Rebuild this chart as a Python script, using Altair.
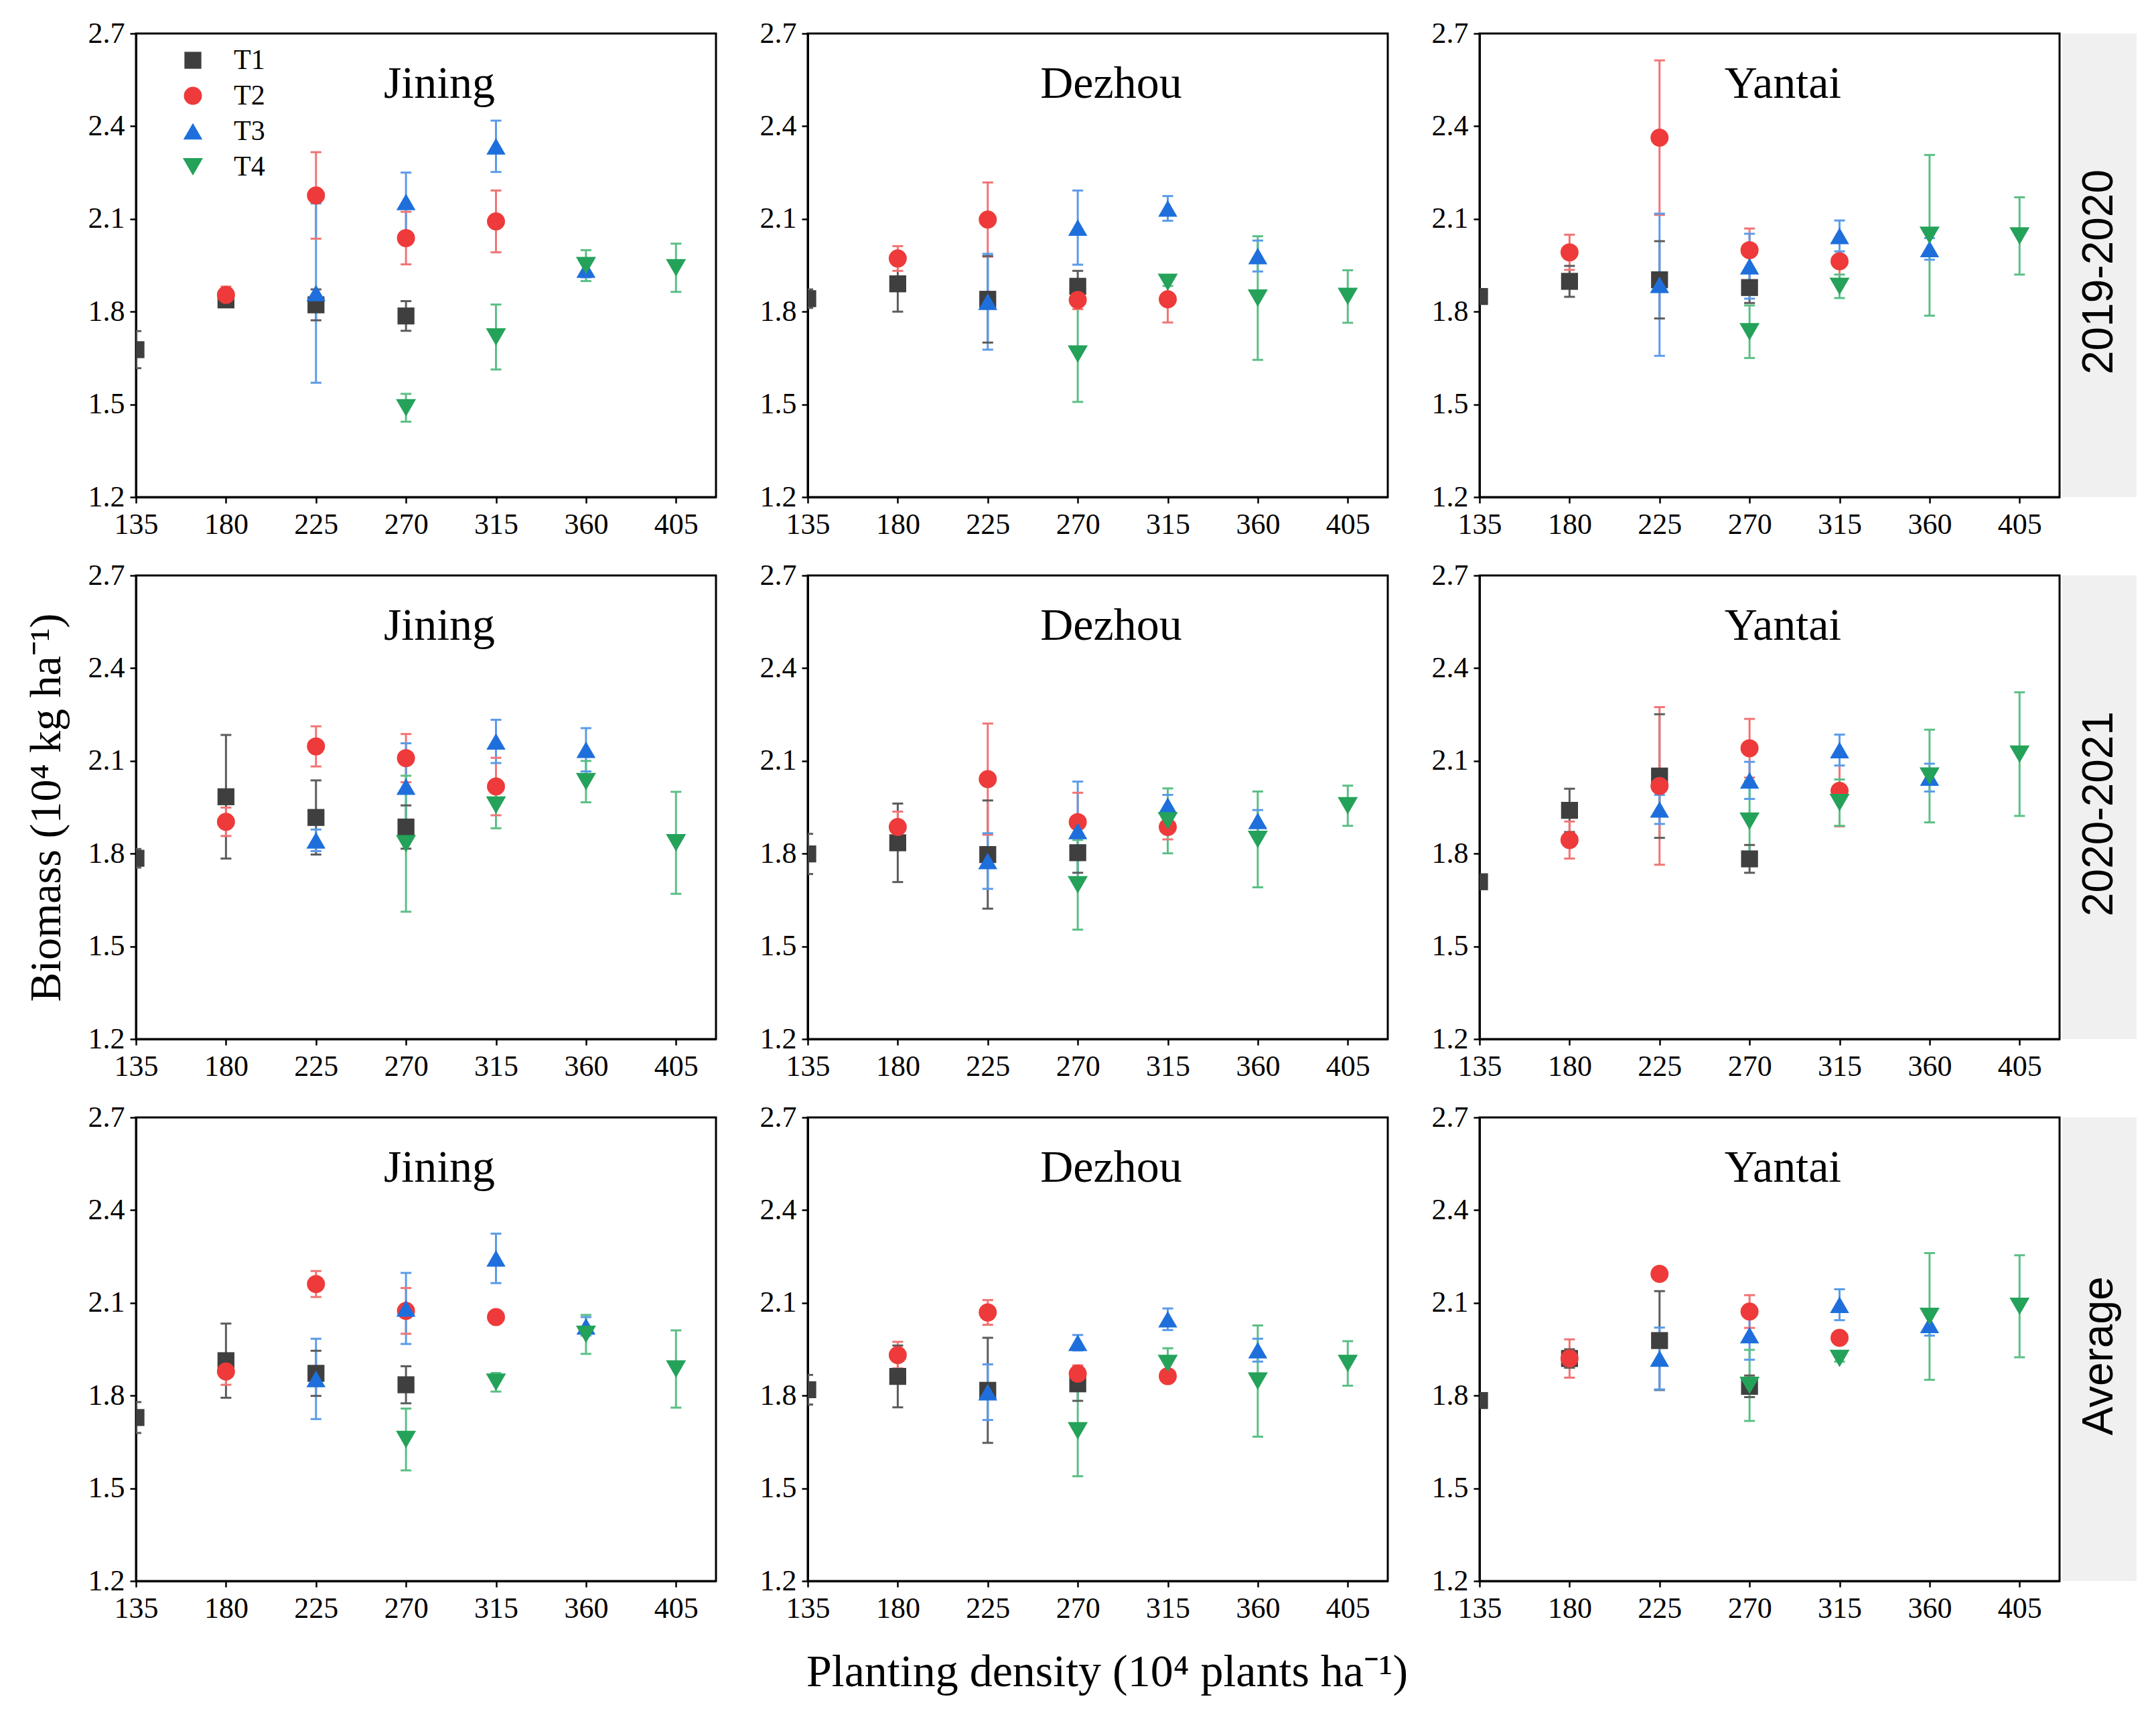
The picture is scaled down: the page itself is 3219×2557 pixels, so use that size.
import altair as alt
import pandas as pd

# ---------------- data ----------------
TREATMENTS = ["T1", "T2", "T3", "T4"]
T1_DENSITY = [135, 180, 225, 270]
T2_DENSITY = [180, 225, 270, 315]
T3_DENSITY = [225, 270, 315, 360]
T4_DENSITY = [270, 315, 360, 405]
X_TICKS = [135, 180, 225, 270, 315, 360, 405]
Y_TICKS = [1.2, 1.5, 1.8, 2.1, 2.4, 2.7]
SITES = ["Jining", "Dezhou", "Yantai"]
PERIODS = ["2019-2020", "2020-2021", "Average"]

# means ordered T1(4), T2(4), T3(4), T4(4); errors likewise
JINING_1920_MEAN = [1.677, 1.838, 1.822, 1.786, 1.854, 2.176, 2.038, 2.092,
                    1.860, 2.155, 2.335, 1.936, 1.489, 1.718, 1.949, 1.942]
JINING_1920_ERR = [0.060, 0.020, 0.050, 0.048, 0.027, 0.140, 0.085, 0.100,
                   0.290, 0.095, 0.083, 0.025, 0.045, 0.105, 0.050, 0.078]
DEZHOU_1920_MEAN = [1.842, 1.890, 1.840, 1.882, 1.972, 2.098, 1.838, 1.840,
                    1.832, 2.072, 2.134, 1.980, 1.663, 1.895, 1.844, 1.849]
DEZHOU_1920_ERR = [0.030, 0.090, 0.140, 0.050, 0.040, 0.120, 0.030, 0.075,
                   0.155, 0.120, 0.040, 0.050, 0.155, 0.012, 0.200, 0.085]
YANTAI_1920_MEAN = [1.849, 1.898, 1.903, 1.878, 1.992, 2.363, 1.999, 1.963,
                    1.887, 1.947, 2.045, 2.003, 1.735, 1.882, 2.047, 2.045]
YANTAI_1920_ERR = [0.020, 0.050, 0.125, 0.050, 0.057, 0.250, 0.070, 0.060,
                   0.230, 0.105, 0.050, 0.035, 0.085, 0.038, 0.260, 0.125]

JINING_2021_MEAN = [1.785, 1.984, 1.917, 1.886, 1.903, 2.147, 2.109, 2.017,
                    1.843, 2.017, 2.163, 2.136, 1.832, 1.957, 2.033, 1.835]
JINING_2021_ERR = [0.030, 0.200, 0.120, 0.070, 0.046, 0.065, 0.078, 0.093,
                   0.035, 0.140, 0.070, 0.070, 0.220, 0.075, 0.067, 0.165]
DEZHOU_2021_MEAN = [1.799, 1.835, 1.797, 1.803, 1.886, 2.041, 1.902, 1.886,
                    1.776, 1.873, 1.955, 1.906, 1.699, 1.906, 1.846, 1.955]
DEZHOU_2021_ERR = [0.065, 0.127, 0.175, 0.065, 0.050, 0.180, 0.095, 0.040,
                   0.090, 0.160, 0.035, 0.035, 0.145, 0.105, 0.155, 0.065]
YANTAI_2021_MEAN = [1.709, 1.940, 2.051, 1.783, 1.844, 2.019, 2.141, 2.003,
                    1.943, 2.037, 2.135, 2.046, 1.905, 1.965, 2.051, 2.122]
YANTAI_2021_ERR = [0.020, 0.070, 0.200, 0.045, 0.060, 0.255, 0.095, 0.115,
                   0.047, 0.060, 0.050, 0.045, 0.130, 0.075, 0.150, 0.200]

JINING_AVG_MEAN = [1.729, 1.913, 1.872, 1.835, 1.878, 2.161, 2.074, 2.054,
                   1.854, 2.082, 2.244, 2.024, 1.658, 1.843, 1.998, 1.886]
JINING_AVG_ERR = [0.050, 0.120, 0.073, 0.060, 0.043, 0.042, 0.074, 0.010,
                  0.130, 0.115, 0.080, 0.030, 0.100, 0.030, 0.063, 0.125]
DEZHOU_AVG_MEAN = [1.819, 1.862, 1.817, 1.838, 1.931, 2.069, 1.871, 1.863,
                   1.811, 1.971, 2.047, 1.947, 1.686, 1.904, 1.847, 1.904]
DEZHOU_AVG_ERR = [0.048, 0.100, 0.170, 0.055, 0.043, 0.040, 0.027, 0.015,
                  0.090, 0.025, 0.035, 0.037, 0.147, 0.049, 0.180, 0.072]
YANTAI_AVG_MEAN = [1.784, 1.920, 1.978, 1.830, 1.920, 2.194, 2.072, 1.987,
                   1.920, 1.996, 2.094, 2.029, 1.833, 1.920, 2.056, 2.089]
YANTAI_AVG_ERR = [0.020, 0.030, 0.160, 0.035, 0.062, 0.010, 0.053, 0.020,
                  0.100, 0.080, 0.050, 0.035, 0.115, 0.010, 0.205, 0.165]

PANELS = [
    [(JINING_1920_MEAN, JINING_1920_ERR), (DEZHOU_1920_MEAN, DEZHOU_1920_ERR), (YANTAI_1920_MEAN, YANTAI_1920_ERR)],
    [(JINING_2021_MEAN, JINING_2021_ERR), (DEZHOU_2021_MEAN, DEZHOU_2021_ERR), (YANTAI_2021_MEAN, YANTAI_2021_ERR)],
    [(JINING_AVG_MEAN, JINING_AVG_ERR), (DEZHOU_AVG_MEAN, DEZHOU_AVG_ERR), (YANTAI_AVG_MEAN, YANTAI_AVG_ERR)],
]
DENSITIES = [T1_DENSITY, T2_DENSITY, T3_DENSITY, T4_DENSITY]

# ---------------- styling ----------------
COLORS = ["#3f3f3f", "#ee3a3a", "#1e6fdc", "#24a25a"]
BAR_COLORS = ["#5c5c5c", "#f27474", "#5b9be8", "#5cbf86"]
SHAPES = ["square", "circle", "triangle-up", "triangle-down"]
SIZES = [640, 900, 950, 950]
SERIF = "Liberation Serif"
SANS = "Liberation Sans"
W, H = 866, 692
SW = 111
CAP = 2.7  # half cap width in density units
Y_TITLE = "Biomass (10\u2074 kg ha\u207b\u00b9)"
X_TITLE = "Planting density (10\u2074 plants ha\u207b\u00b9)"


def make_df(means, errs):
    rows = []
    for i, t in enumerate(TREATMENTS):
        for j, d in enumerate(DENSITIES[i]):
            m = means[i * 4 + j]
            e = errs[i * 4 + j]
            rows.append({"t": t, "density": d, "mean": m, "lo": m - e, "hi": m + e})
    return pd.DataFrame(rows)


LEGEND = alt.Legend(title=None, orient="none", legendX=64, legendY=19, padding=0,
                    labelFont=SERIF, labelFontSize=42, labelColor="black",
                    symbolSize=620, rowPadding=11, labelOffset=40, symbolStrokeWidth=0)


def panel(r, c):
    means, errs = PANELS[r][c]
    df = make_df(means, errs)
    base = alt.Chart(df)

    if c == 0:
        yaxis = alt.Axis(values=Y_TICKS, format=".1f", title=Y_TITLE, titleFont=SERIF,
                         titleFontSize=66, titleFontWeight="normal", titleColor="black",
                         titlePadding=28, titleOpacity=1 if r == 1 else 0)
    else:
        yaxis = alt.Axis(values=Y_TICKS, format=".1f", title="")
    xaxis = alt.Axis(values=X_TICKS, title="")

    xs = alt.Scale(domain=[135, 425], nice=False, zero=False)
    ys = alt.Scale(domain=[1.2, 2.7], nice=False, zero=False)
    # data-driven domain (sorted T1..T4) so this hidden legend never merges with the marker legend
    stroke = alt.Stroke("t:N", scale=alt.Scale(range=BAR_COLORS), legend=None)

    bars = base.mark_rule(strokeWidth=3, clip=True).encode(
        x=alt.X("density:Q", scale=xs, axis=xaxis),
        y=alt.Y("lo:Q", scale=ys, axis=yaxis),
        y2="hi:Q",
        stroke=stroke,
    )
    capbase = base.transform_calculate(xl=f"datum.density - {CAP}", xr=f"datum.density + {CAP}")
    caps_lo = capbase.mark_rule(strokeWidth=3, clip=True).encode(
        x=alt.X("xl:Q", scale=xs, axis=xaxis), x2="xr:Q",
        y=alt.Y("lo:Q", scale=ys, axis=yaxis), stroke=stroke)
    caps_hi = capbase.mark_rule(strokeWidth=3, clip=True).encode(
        x=alt.X("xl:Q", scale=xs, axis=xaxis), x2="xr:Q",
        y=alt.Y("hi:Q", scale=ys, axis=yaxis), stroke=stroke)

    leg = LEGEND if (r == 0 and c == 0) else None
    pts = base.mark_point(filled=True, opacity=1, clip=True).encode(
        x=alt.X("density:Q", scale=xs, axis=xaxis),
        y=alt.Y("mean:Q", scale=ys, axis=yaxis),
        color=alt.Color("t:N", scale=alt.Scale(domain=TREATMENTS, range=COLORS), legend=leg),
        shape=alt.Shape("t:N", scale=alt.Scale(domain=TREATMENTS, range=SHAPES), legend=leg),
        size=alt.Size("t:N", scale=alt.Scale(domain=TREATMENTS, range=SIZES), legend=leg),
    )
    title = alt.Chart(pd.DataFrame({"site": [SITES[c]]})).mark_text(
        font=SERIF, fontSize=68, color="black", baseline="alphabetic", align="center"
    ).encode(x=alt.value(W / 2 + 20), y=alt.value(96), text="site:N")

    return alt.layer(bars, caps_lo, caps_hi, pts, title).properties(width=W, height=H)


def strip(r):
    return alt.Chart(pd.DataFrame({"label": [PERIODS[r]]})).mark_text(
        font=SANS, fontSize=64, color="black", angle=270, align="center", baseline="middle"
    ).encode(x=alt.value(SW / 2), y=alt.value(H / 2 + 10), text="label:N").properties(
        width=SW, height=H, view=alt.ViewBackground(fill="#f0f0f0", stroke="transparent"))


RES = dict(x="independent", y="independent")

rows = []
for r in range(3):
    right = alt.hconcat(panel(r, 2), strip(r), spacing=0).resolve_scale(**RES)
    row = alt.hconcat(panel(r, 0), panel(r, 1), right, spacing=61).resolve_scale(**RES)
    rows.append(row)

chart = alt.vconcat(*rows, spacing=28).resolve_scale(**RES).properties(
    padding={"left": 26, "top": 18, "right": 10, "bottom": 10},
    title=alt.TitleParams(X_TITLE, orient="bottom", anchor="middle", font=SERIF, fontSize=68,
                          fontWeight="normal", color="black", offset=38, dx=40),
).configure_view(stroke="black", strokeWidth=3).configure_axis(
    grid=False, domainColor="black", domainWidth=3, tickColor="black", tickWidth=2.5,
    tickSize=9, labelFont=SERIF, labelFontSize=44, labelColor="black", labelFlush=False
).configure_axisY(labelPadding=8).configure_axisX(labelPadding=10)

chart.save("out.html", embed_options={"renderer": "svg", "actions": False})
